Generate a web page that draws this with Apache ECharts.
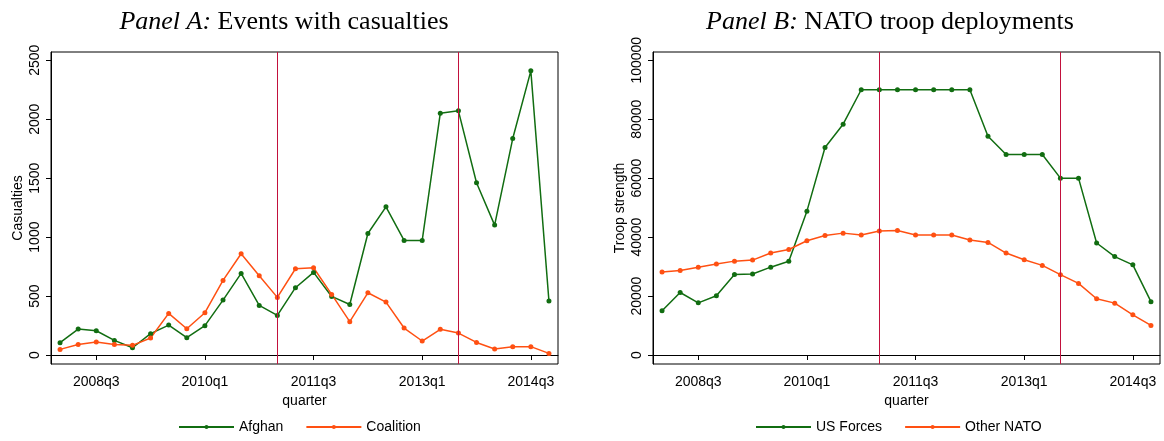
<!DOCTYPE html>
<html>
<head>
<meta charset="utf-8">
<script src="https://cdn.jsdelivr.net/npm/echarts@6/dist/echarts.min.js"></script>
<style>html,body{margin:0;padding:0;background:#fff;}#c{width:1164px;height:441px;}</style>
</head>
<body>
<div id="c"></div>
<script>
const quarters = ['2008q1','2008q2','2008q3','2008q4','2009q1','2009q2','2009q3','2009q4',
  '2010q1','2010q2','2010q3','2010q4','2011q1','2011q2','2011q3','2011q4',
  '2012q1','2012q2','2012q3','2012q4','2013q1','2013q2','2013q3','2013q4',
  '2014q1','2014q2','2014q3','2014q4'];
const afghan = [105,220,206,124,62,181,254,147,249,466,692,421,336,571,701,497,429,1031,1257,972,972,2051,2071,1461,1102,1836,2410,458];
const coalition = [48,90,110,90,82,144,353,223,359,633,859,672,489,732,740,514,283,528,449,229,119,218,186,107,51,71,71,14];
const usForces = [15000,21200,17700,20100,27300,27500,29800,31800,48800,70400,78300,90000,90000,90000,90000,90000,90000,90000,74200,68000,68000,68000,60000,60000,38000,33400,30600,18100];
const otherNato = [28200,28700,29800,30850,31850,32200,34600,35800,38750,40550,41350,40700,42050,42250,40700,40700,40700,39000,38200,34600,32300,30400,27250,24300,19100,17600,13650,10050];
const casualtyTicks = [0,500,1000,1500,2000,2500];
const troopTicks = [0,20000,40000,60000,80000,100000];
const xTickQuarters = ['2008q3','2010q1','2011q3','2013q1','2014q3'];
const eventQuarters = ['2011q1','2013q3'];

const GREEN = '#116d11', ORANGE = '#ff5012', RED = '#c2113d';
const SANS = 'Liberation Sans';
const chart = echarts.init(document.getElementById('c'));

function xAxisFor(gi){
  const show = (i) => xTickQuarters.indexOf(quarters[i]) >= 0;
  return {
    type:'category', gridIndex:gi, data:quarters, boundaryGap:true,
    name:'quarter', nameLocation:'middle', nameGap:26,
    nameTextStyle:{fontFamily:SANS,fontSize:14,color:'#000'},
    axisLine:{show:true,lineStyle:{color:'#000',width:1}},
    axisTick:{show:true,alignWithLabel:true,interval:(i)=>show(i),length:5,lineStyle:{color:'#000'}},
    axisLabel:{interval:(i)=>show(i),fontFamily:SANS,fontSize:14,color:'#000',margin:11},
    splitLine:{show:false}
  };
}
function yAxisFor(gi,min,max,ticks,name,gap){
  return {
    type:'value', gridIndex:gi, min:min, max:max,
    name:name, nameLocation:'middle', nameGap:gap,
    nameTextStyle:{fontFamily:SANS,fontSize:14,color:'#000'},
    axisLine:{show:true,lineStyle:{color:'#000',width:1}},
    axisTick:{show:true,length:5,customValues:ticks,lineStyle:{color:'#000'}},
    axisLabel:{rotate:90,customValues:ticks,formatter:(v)=>String(v),fontFamily:SANS,fontSize:14,color:'#000',margin:9},
    splitLine:{show:false}
  };
}
function lineSeries(name,data,color,xi,yi,withMark){
  const s = {
    name:name, type:'line', xAxisIndex:xi, yAxisIndex:yi, data:data,
    symbol:'circle', symbolSize:5, showSymbol:true,
    lineStyle:{color:color,width:1.5}, itemStyle:{color:color},
    animation:false, z:3
  };
  if(withMark){
    s.markLine = {silent:true, symbol:'none', animation:false,
      label:{show:false},
      lineStyle:{color:RED,width:1,type:'solid'},
      data: eventQuarters.map(q=>({xAxis:q}))};
  }
  return s;
}

chart.setOption({
  backgroundColor:'#fff',
  animation:false,
  title:[
    {text:'{i|Panel A:} Events with casualties', left:279, top:4, textAlign:'center',
     textStyle:{fontFamily:'Liberation Serif',fontSize:26,fontWeight:'normal',color:'#000',
       rich:{i:{fontFamily:'Liberation Serif',fontSize:26,fontStyle:'italic',color:'#000'}}}},
    {text:'{i|Panel B:} NATO troop deployments', left:885, top:4, textAlign:'center',
     textStyle:{fontFamily:'Liberation Serif',fontSize:26,fontWeight:'normal',color:'#000',
       rich:{i:{fontFamily:'Liberation Serif',fontSize:26,fontStyle:'italic',color:'#000'}}}}
  ],
  grid:[
    {left:51, top:52, width:507, height:312, show:true, borderColor:'#000', borderWidth:1, backgroundColor:'#fff'},
    {left:653, top:52, width:507, height:312, show:true, borderColor:'#000', borderWidth:1, backgroundColor:'#fff'}
  ],
  legend:[
    {data:['Afghan','Coalition'], left:178, top:420, padding:0, itemWidth:55, itemHeight:5, itemGap:22,
     textStyle:{fontFamily:SANS,fontSize:14,color:'#000'}},
    {data:['US Forces','Other NATO'], left:755, top:420, padding:0, itemWidth:55, itemHeight:5, itemGap:22,
     textStyle:{fontFamily:SANS,fontSize:14,color:'#000'}}
  ],
  xAxis:[xAxisFor(0), xAxisFor(1)],
  yAxis:[
    yAxisFor(0,-76,2570,casualtyTicks,'Casualties',26),
    yAxisFor(1,-3050,102800,troopTicks,'Troop strength',26)
  ],
  series:[
    lineSeries('Afghan',afghan,GREEN,0,0,true),
    lineSeries('Coalition',coalition,ORANGE,0,0,false),
    lineSeries('US Forces',usForces,GREEN,1,1,true),
    lineSeries('Other NATO',otherNato,ORANGE,1,1,false)
  ]
});
</script>
</body>
</html>
